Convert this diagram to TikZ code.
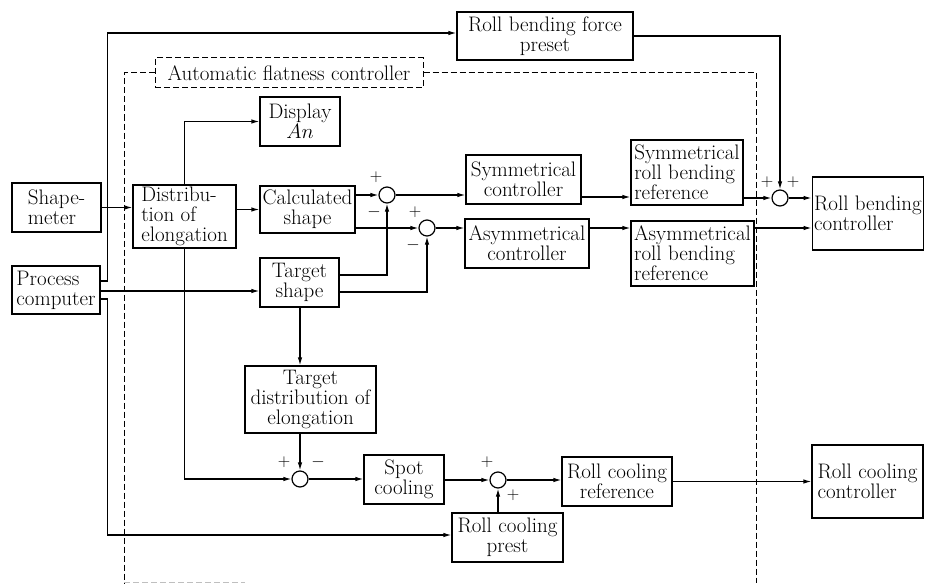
\documentclass[tikz,border=0pt]{standalone}
\usepackage{amsmath, amssymb}
\usepackage{tikz}
\usetikzlibrary{arrows.meta}

\tikzset{
  blk/.style={draw, line width=1.2pt, inner sep=2pt, align=center,
    font=\fontsize{21}{20}\selectfont},
  sumpt/.style={draw, circle, line width=1.2pt, minimum size=16pt, inner sep=0pt},
  sgn/.style={inner sep=0pt, font=\fontsize{18}{18}\selectfont},
  arr/.style={line width=1.2pt, -{Latex[length=8pt,width=4.5pt]}},
  frame/.style={line width=1pt, dash pattern=on 6pt off 3pt}
}

\begin{document}
\begin{tikzpicture}[x=1pt, y=-1pt]
			\useasboundingbox (0,0) rectangle (925,583);

			% Blocks
			\node[blk, minimum width=89pt, minimum height=49pt, align=left] (shape) at (56.5,207.5) {Shape-\\meter};
			\node[blk, minimum width=88pt, minimum height=48pt, align=left] (proc) at (56,290) {Process\\computer};
			\node[blk, minimum width=103pt, minimum height=63pt, align=left] (dist) at (184.5,216.5) {Distribu-\\tion of\\elongation};
			\node[blk, minimum width=80pt, minimum height=49pt] (disp) at (300,121.5) {Display\\$An$};
			\node[blk, minimum width=95pt, minimum height=47pt] (calc) at (307.5,209.5) {Calculated\\shape};
			\node[blk, minimum width=79pt, minimum height=49pt] (targ) at (299.5,282.5) {Target\\shape};
			\node[blk, frame, minimum width=268pt, minimum height=30pt] (afc) at (289,73) {Automatic flatness controller};
			\node[blk, minimum width=176pt, minimum height=48pt] (preset) at (545,36) {Roll bending force\\preset};
			\node[blk, minimum width=115pt, minimum height=49pt] (symc) at (523.5,179.5) {Symmetrical\\controller};
			\node[blk, minimum width=124pt, minimum height=49pt] (asymc) at (527,243.5) {Asymmetrical\\controller};
			\node[blk, minimum width=112pt, minimum height=65pt, align=left] (symref) at (687,172.5) {Symmetrical\\roll bending\\reference};
			\node[blk, minimum width=123pt, minimum height=65pt, align=left] (asymref) at (692.5,253.5) {Asymmetrical\\roll bending\\reference};
			\node[blk, minimum width=110pt, minimum height=73pt, align=left] (rbc) at (868,213.5) {Roll bending\\controller};
			\node[blk, minimum width=131pt, minimum height=67pt] (tdist) at (310.5,399.5) {Target\\distribution of\\elongation};
			\node[blk, minimum width=80pt, minimum height=49pt] (spot) at (404,479.5) {Spot\\cooling};
			\node[blk, minimum width=111pt, minimum height=49pt] (rcp) at (507.5,537.5) {Roll cooling\\prest};
			\node[blk, minimum width=110pt, minimum height=49pt] (rcref) at (617,481.5) {Roll cooling\\reference};
			\node[blk, minimum width=111pt, minimum height=73pt, align=left] (rcc) at (867.5,481.5) {Roll cooling\\controller};

			% Summing points
			\foreach \n/\x/\y in {j1/387/195, j2/427/228, j3/780/198, j4/300/479, j5/498/480} {
				\node[sumpt] (\n) at (\x,\y) {};
			}

			% Signs
			\node[sgn] (p1) at (376,177) {$+$};
			\node[sgn] (m1) at (374,212) {$-$};
			\node[sgn] (p2) at (415,212) {$+$};
			\node[sgn] (m2) at (413,245) {$-$};
			\node[sgn] (p3) at (767,182) {$+$};
			\node[sgn] (q3) at (793,182) {$+$};
			\node[sgn] (p4) at (284,462) {$+$};
			\node[sgn] (m4) at (318,462) {$-$};
			\node[sgn] (p5) at (487,462) {$+$};
			\node[sgn] (q5) at (513,495) {$+$};

			% Frame of the flatness controller
			\draw[frame] (afc.west) -- (124,73) -- (124,583);
			\draw[frame] (afc.east) -- (756,73) -- (756,583);
			\draw[frame, gray!50] (124,582) -- (245,582);

			% Signals
			\draw[arr] (shape.east) -- (shape.east -| dist.west);
			\draw[arr] ([yshift=9pt]proc.east) -- ++(7,0) |- ([yshift=3pt]preset.west);
			\draw[arr] ([yshift=-1pt]proc.east) -- ([yshift=-1pt]proc.east -| targ.west);
			\draw[arr] ([yshift=-9pt]proc.east) -- ++(7,0) |- ([yshift=2.5pt]rcp.west);
			\draw[arr] (dist.north) |- (disp.west);
			\draw[arr] (dist.east |- calc.west) -- (calc.west);
			\draw[arr] (dist.south) |- (j4.west);
			\draw[arr] (calc.east |- j1) -- (j1.west);
			\draw[arr] (calc.east |- j2) -- (j2.west);
			\draw[arr] ([yshift=7.5pt]targ.east) -| (j1.south);
			\draw[arr] ([yshift=-9.5pt]targ.east) -| (j2.south);
			\draw[arr] (j1.east) -- (j1.east -| symc.west);
			\draw[arr] (j2.east) -- (j2.east -| asymc.west);
			\draw[arr] ([yshift=-17.5pt]symc.east) -- ([yshift=-17.5pt]symc.east -| symref.west);
			\draw[arr] ([yshift=15.5pt]asymc.east) -- ([yshift=15.5pt]asymc.east -| asymref.west);
			\draw[arr] (symref.east |- j3) -- (j3.west);
			\draw[arr] (preset.east) -| (j3.north);
			\draw[arr] (j3.east) -- (j3.east -| rbc.west);
			\draw[arr] ([yshift=25.5pt]asymref.east) -- ([yshift=25.5pt]asymref.east -| rbc.west);
			\draw[arr] (targ.south -| j4) -- (tdist.north -| j4);
			\draw[arr] (tdist.south -| j4) -- (j4.north);
			\draw[arr] (j4.east) -- (j4.east -| spot.west);
			\draw[arr] (spot.east |- j5) -- (j5.west);
			\draw[arr] (rcp.north -| j5) -- (j5.south);
			\draw[arr] (j5.east) -- (j5.east -| rcref.west);
			\draw[arr] (rcref.east) -- (rcref.east -| rcc.west);

		\end{tikzpicture}
\end{document}
